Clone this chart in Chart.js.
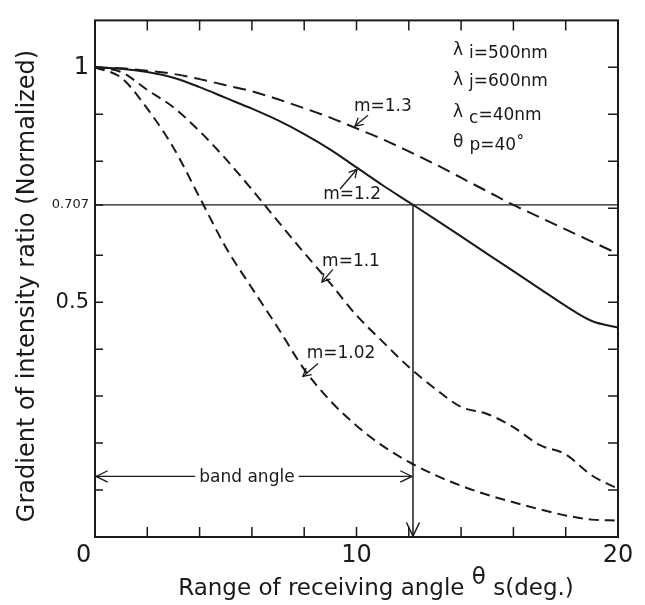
<!DOCTYPE html>
<html><head><meta charset="utf-8">
<script src="https://cdn.jsdelivr.net/npm/chart.js@4.4.0/dist/chart.umd.min.js"></script>
<style>html,body{margin:0;padding:0;background:#fff;}</style>
</head><body>
<canvas id="c" width="645" height="605" style="display:block;width:645px;height:605px"></canvas>
<script>
// ---- data ----
const angles = [0,1,2,3,4,5,6,7,8,9,10,11,12,13,14,15,16,17,18,19,20];
const m13  = [1.0,0.998,0.993,0.986,0.975,0.962,0.949,0.932,0.913,0.893,0.870,0.847,0.821,0.794,0.765,0.736,0.707,0.681,0.655,0.629,0.603];
const m12  = [1.0,0.997,0.990,0.978,0.958,0.935,0.912,0.887,0.858,0.825,0.787,0.749,0.713,0.677,0.640,0.603,0.566,0.529,0.492,0.460,0.446];
const m11  = [1.0,0.990,0.952,0.915,0.864,0.805,0.740,0.672,0.605,0.540,0.472,0.416,0.362,0.316,0.277,0.262,0.234,0.196,0.176,0.131,0.103];
const m102 = [1.0,0.978,0.912,0.829,0.723,0.617,0.530,0.445,0.357,0.290,0.237,0.194,0.160,0.132,0.109,0.090,0.074,0.059,0.046,0.037,0.035];
const seriesNames = ['m=1.3','m=1.2','m=1.1','m=1.02'];
const xTickValues = [0,10,20];
const xTickLabels = ['0   ','10','20'];
const yTickValues = [0.5,0.707,1];
const yTickLabels = ['0.5','0.707','1'];
const xMinorTicks = [2,4,6,8,10,12,14,16,18];
const yLeftMinorTicks = [0.1,0.2,0.3,0.4,0.5,0.6,0.707,0.8,0.9,1.0];
const yRightMinorTicks = [0.1,0.2,0.3,0.4,0.5,0.6,0.7,0.8,0.9,1.0];
const halfLevel = 0.707;
const bandAngle = 12.16;
const bandArrowLevel = 0.129;
const bandLabel = 'band angle';
const bandLabelX = 5.81;
const xTitleParts = ['Range of receiving angle ','θ',' s(deg.)'];
const yTitle = 'Gradient of intensity ratio (Normalized)';
const legendLines = [
  ['λ','i','=500nm'],
  ['λ','j','=600nm'],
  ['λ','c','=40nm'],
  ['θ','p','=40˚']
];
// curve label anchors (text centre) and arrow start/end, in data units
const curveLabelPos = [[11.01,0.9165],[9.83,0.7286],[9.79,0.5866],[9.41,0.390]];
const curveArrows = [
  [[10.44,0.898],[9.94,0.875]],
  [[9.37,0.741],[10.02,0.783]],
  [[9.10,0.570],[8.68,0.543]],
  [[8.53,0.3695],[7.95,0.342]]
];

const FONT = "'DejaVu Sans', sans-serif";
const INK = '#1a1a1a';
const pts = (ys) => angles.map((a,i)=>({x:a,y:ys[i]}));

function arrowHead(ctx, x1,y1,x2,y2, len, spread){
  const ang = Math.atan2(y2-y1, x2-x1);
  ctx.beginPath();
  ctx.moveTo(x2 - len*Math.cos(ang-spread), y2 - len*Math.sin(ang-spread));
  ctx.lineTo(x2,y2);
  ctx.lineTo(x2 - len*Math.cos(ang+spread), y2 - len*Math.sin(ang+spread));
  ctx.stroke();
}

const annot = {
  id:'annot',
  afterDatasetsDraw(chart){
    const ctx = chart.ctx, xs = chart.scales.x, ys = chart.scales.y, ca = chart.chartArea;
    const X = v=>xs.getPixelForValue(v), Y = v=>ys.getPixelForValue(v);
    ctx.save();
    ctx.strokeStyle = INK; ctx.fillStyle = INK; ctx.setLineDash([]);
    // frame
    ctx.lineWidth = 2;
    ctx.strokeRect(ca.left, ca.top, ca.right-ca.left, ca.bottom-ca.top);
    // tick marks (inward)
    ctx.lineWidth = 1.5;
    ctx.beginPath();
    xMinorTicks.forEach(v=>{ const p=X(v);
      ctx.moveTo(p,ca.bottom); ctx.lineTo(p,ca.bottom-10);
      ctx.moveTo(p,ca.top); ctx.lineTo(p,ca.top+10); });
    yLeftMinorTicks.forEach(v=>{ const p=Y(v); ctx.moveTo(ca.left,p); ctx.lineTo(ca.left+8,p); });
    yRightMinorTicks.forEach(v=>{ const p=Y(v); ctx.moveTo(ca.right,p); ctx.lineTo(ca.right-10,p); });
    ctx.stroke();
    // arrowhead at bottom of band-angle vertical line
    ctx.lineWidth = 1.5;
    arrowHead(ctx, X(bandAngle), Y(halfLevel), X(bandAngle), ca.bottom-1, 15, 0.45);
    // band angle double arrow
    ctx.font = `17px ${FONT}`;
    ctx.textAlign = 'center'; ctx.textBaseline = 'middle';
    const tw = ctx.measureText(bandLabel).width;
    const by = Y(bandArrowLevel), bx = X(bandLabelX);
    ctx.fillText(bandLabel, bx, by+1);
    ctx.lineWidth = 1.3;
    ctx.beginPath();
    ctx.moveTo(X(0)+1, by); ctx.lineTo(bx - tw/2 - 4, by);
    ctx.moveTo(bx + tw/2 + 4, by); ctx.lineTo(X(bandAngle)-1, by);
    ctx.stroke();
    arrowHead(ctx, X(2), by, X(0)+1, by, 13, 0.45);
    arrowHead(ctx, X(10), by, X(bandAngle)-1, by, 13, 0.45);
    // curve labels
    ctx.font = `17px ${FONT}`;
    ctx.textAlign='center'; ctx.textBaseline='middle';
    seriesNames.forEach((n,i)=>{
      ctx.fillText(n, X(curveLabelPos[i][0]), Y(curveLabelPos[i][1]));
      const a = curveArrows[i];
      ctx.lineWidth = 1.3;
      ctx.beginPath();
      ctx.moveTo(X(a[0][0]),Y(a[0][1])); ctx.lineTo(X(a[1][0]),Y(a[1][1]));
      ctx.stroke();
      arrowHead(ctx, X(a[0][0]),Y(a[0][1]), X(a[1][0]),Y(a[1][1]), 9, 0.5);
    });
    // legend block
    ctx.textAlign='left'; ctx.textBaseline='alphabetic';
    const lx = 453;
    const base = [[55,58,57.5],[85,87,86],[117,123,120],[147,150,150]];
    legendLines.forEach((l,i)=>{
      let x = lx;
      ctx.font = `17px ${FONT}`;
      ctx.fillText(l[0], x, base[i][0]); x += ctx.measureText(l[0]).width + 6;
      ctx.fillText(l[1], x, base[i][1]); x += ctx.measureText(l[1]).width;
      ctx.fillText(l[2], x, base[i][2]);
    });
    // x title
    ctx.font = `23px ${FONT}`;
    const w0 = ctx.measureText(xTitleParts[0]).width, w1 = ctx.measureText(xTitleParts[1]).width, w2 = ctx.measureText(xTitleParts[2]).width;
    let tx = 376 - (w0+w1+w2)/2;
    ctx.fillText(xTitleParts[0], tx, 595); tx += w0;
    ctx.fillText(xTitleParts[1], tx, 584); tx += w1;
    ctx.fillText(xTitleParts[2], tx, 595);
    // y title
    ctx.translate(28, 286); ctx.rotate(-Math.PI/2);
    ctx.font = `24px ${FONT}`; ctx.textAlign='center'; ctx.textBaseline='middle';
    ctx.fillText(yTitle, 0, 0);
    ctx.restore();
  }
};

const curveStyle = (dash)=>({borderColor:INK, borderWidth:2, borderDash:dash, pointRadius:0, fill:false, cubicInterpolationMode:'monotone'});

new Chart(document.getElementById('c'), {
  type:'line',
  data:{ datasets:[
    Object.assign({label:seriesNames[0], data:pts(m13)}, curveStyle([13,7])),
    Object.assign({label:seriesNames[1], data:pts(m12)}, curveStyle([])),
    Object.assign({label:seriesNames[2], data:pts(m11)}, curveStyle([10,6])),
    Object.assign({label:seriesNames[3], data:pts(m102)}, curveStyle([10,6])),
    {label:'0.707', data:[{x:0,y:halfLevel},{x:20,y:halfLevel}], borderColor:INK, borderWidth:1.3, pointRadius:0, tension:0},
    {label:'band', data:[{x:bandAngle,y:halfLevel},{x:bandAngle,y:0}], borderColor:INK, borderWidth:1.5, pointRadius:0, tension:0}
  ]},
  options:{
    responsive:false, devicePixelRatio:1, animation:false,
    layout:{padding:{top:10,right:27,left:0,bottom:0}},
    plugins:{legend:{display:false}, tooltip:{enabled:false}},
    scales:{
      x:{type:'linear', min:0, max:20,
        afterFit(s){ s.height = 68; },
        afterBuildTicks(s){ s.ticks = xTickValues.map(v=>({value:v})); },
        grid:{display:false, drawTicks:false}, border:{display:false},
        ticks:{autoSkip:false, maxRotation:0, padding:4, color:INK,
          font:{family:FONT, size:24},
          callback:(v)=>{ const i = xTickValues.indexOf(v); return i>=0 ? xTickLabels[i] : ''; }}
      },
      y:{type:'linear', min:0, max:1.1,
        afterFit(s){ s.width = 95; },
        afterBuildTicks(s){ s.ticks = yTickValues.map(v=>({value:v})); },
        grid:{display:false, drawTicks:false}, border:{display:false},
        ticks:{autoSkip:false, padding:6, color:INK,
          font:(c)=>({family:FONT, size: (c.tick && c.tick.value===0.707) ? 13 : (c.tick && c.tick.value===0.5 ? 21 : 24)}),
          callback:(v)=>{ const i = yTickValues.indexOf(v); return i>=0 ? yTickLabels[i] : ''; }}
      }
    }
  },
  plugins:[annot]
});
</script>
</body></html>
